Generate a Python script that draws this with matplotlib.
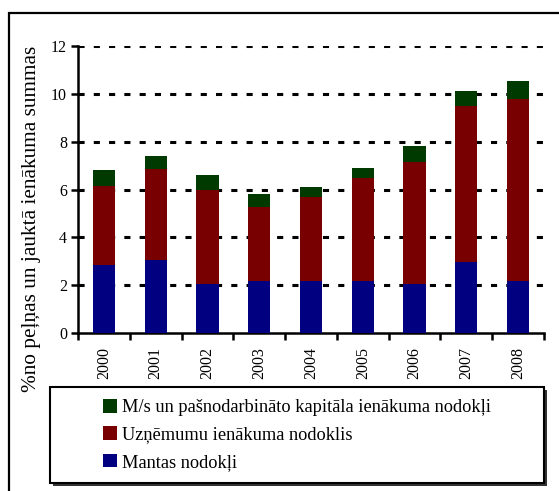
import matplotlib
matplotlib.use("Agg")
import numpy as np
import matplotlib.pyplot as plt
from matplotlib.patches import Rectangle, Patch

plt.rcParams['font.family'] = ['Liberation Serif', 'DejaVu Serif']

# Tax revenue as % of profit and mixed income, by year
years = ["2000", "2001", "2002", "2003", "2004", "2005", "2006", "2007", "2008"]
property_tax = [2.85, 3.05, 2.06, 2.18, 2.18, 2.18, 2.06, 2.98, 2.18]
corporate_tax = [3.30, 3.81, 3.92, 3.08, 3.51, 4.31, 5.09, 6.52, 7.61]
self_employed_tax = [0.67, 0.55, 0.63, 0.56, 0.42, 0.41, 0.67, 0.63, 0.75]

labels = ["Mantas nodokļi",
          "Uzņēmumu ienākuma nodoklis",
          "M/s un pašnodarbināto kapitāla ienākuma nodokļi"]
colors = ["#000080", "#780000", "#003a00"]

W, H = 559, 491
fig = plt.figure(figsize=(W / 100, H / 100), dpi=100)

# outer frame around the whole chart
fig.patches.append(Rectangle((8.5 / W, -0.2), 2.0, (H - 12.5) / H + 0.2,
                             transform=fig.transFigure, fill=False,
                             edgecolor="black", linewidth=1.6, zorder=0))

ax = fig.add_axes([78 / W, 1 - 333 / H, (544 - 78) / W, (333 - 46) / H])

x = np.arange(len(years))
width = 0.43
bottom = np.zeros(len(years))
for vals, col in zip([property_tax, corporate_tax, self_employed_tax], colors):
    ax.bar(x, vals, width, bottom=bottom, color=col, zorder=3)
    bottom += np.array(vals)

ax.set_xlim(-0.5, len(years) - 0.5)
ax.set_ylim(0, 12)
ax.set_yticks(np.arange(0, 13, 2))

# dashed horizontal grid
for yv in np.arange(2, 13, 2):
    ax.axhline(yv, color="black", linewidth=2.2, dashes=(2, 3), zorder=1)

for side in ["top", "right"]:
    ax.spines[side].set_visible(False)
for side in ["left", "bottom"]:
    ax.spines[side].set_linewidth(1.8)

ax.tick_params(axis="y", direction="out", length=5, width=1.8, pad=3, labelsize=11.5)
ax.set_xticks(x)
ax.set_xticklabels(years, rotation=90, fontsize=11.5)
ax.tick_params(axis="x", which="major", length=0, pad=10)
ax.set_xticks(np.arange(-0.5, len(years)), minor=True)
ax.tick_params(axis="x", which="minor", direction="out", length=5, width=1.8)

fig.text(32 / W, 1 - 219 / H, "%no peļņas un jauktā ienākuma summas",
         rotation=90, ha="center", va="center", fontsize=15.3)

# legend box with shadow
bx0, bx1, by0, by1 = 50, 544, 387, 483
fig.patches.append(Rectangle(((bx0 + 2.5) / W, 1 - (by1 + 2.5) / H),
                             (bx1 - bx0) / W, (by1 - by0) / H,
                             transform=fig.transFigure, facecolor="#333333",
                             edgecolor="none", zorder=1))
fig.patches.append(Rectangle((bx0 / W, 1 - by1 / H), (bx1 - bx0) / W, (by1 - by0) / H,
                             transform=fig.transFigure, facecolor="white",
                             edgecolor="black", linewidth=1.5, zorder=2))

handles = [Patch(facecolor=c, edgecolor="none") for c in colors][::-1]
leg = fig.legend(handles, labels[::-1], loc="center",
                 bbox_to_anchor=((bx0 + bx1) / 2 / W, 1 - (by0 + by1) / 2 / H),
                 frameon=False, fontsize=13.2, handlelength=0.75, handleheight=0.75,
                 handletextpad=0.25, labelspacing=0.55)
leg.set_zorder(3)

fig.savefig("out.png", dpi=100)
